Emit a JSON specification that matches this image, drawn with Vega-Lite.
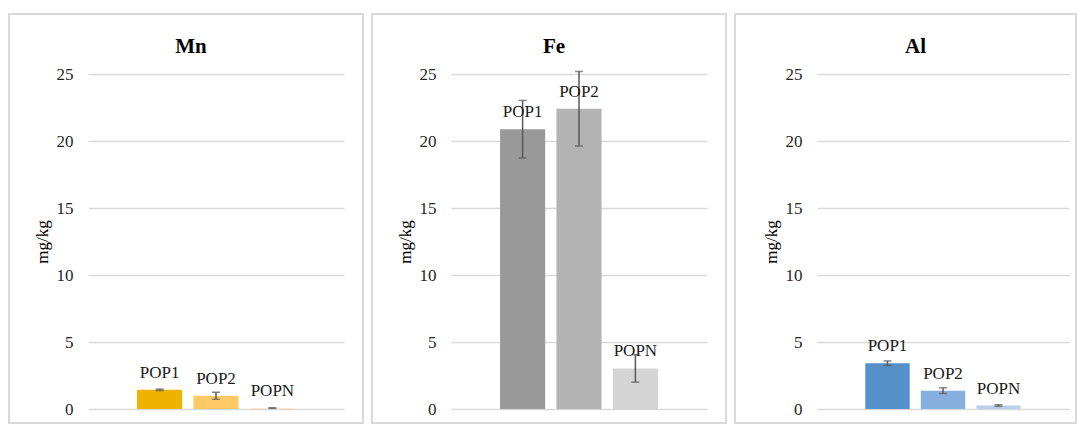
{
  "$schema": "https://vega.github.io/schema/vega-lite/v6.json",
  "padding": {"left": 8, "top": 13, "right": 0, "bottom": 0},
  "spacing": 7,
  "config": {
    "view": {"stroke": "#D9D9D9", "strokeWidth": 2},
    "font": "Liberation Serif, DejaVu Serif, Noto Serif, serif",
    "text": {"font": "Liberation Serif, DejaVu Serif, Noto Serif, serif"},
    "axis": {"labelFont": "Liberation Serif, DejaVu Serif, Noto Serif, serif", "titleFont": "Liberation Serif, DejaVu Serif, Noto Serif, serif"},
    "title": {"font": "Liberation Serif, DejaVu Serif, Noto Serif, serif"}
  },
  "datasets": {
    "d": [
      {"element": "Mn", "pop": "POP1", "mean": 1.43, "sd": 0.05},
      {"element": "Mn", "pop": "POP2", "mean": 0.99, "sd": 0.26},
      {"element": "Mn", "pop": "POPN", "mean": 0.07, "sd": 0.02},
      {"element": "Fe", "pop": "POP1", "mean": 20.88, "sd": 2.15},
      {"element": "Fe", "pop": "POP2", "mean": 22.41, "sd": 2.78},
      {"element": "Fe", "pop": "POPN", "mean": 3.03, "sd": 1.03},
      {"element": "Al", "pop": "POP1", "mean": 3.42, "sd": 0.17},
      {"element": "Al", "pop": "POP2", "mean": 1.37, "sd": 0.21},
      {"element": "Al", "pop": "POPN", "mean": 0.26, "sd": 0.06}
    ]
  },
  "resolve": {"scale": {"color": "independent", "x": "independent", "y": "independent"}},
  "hconcat": [
    {
      "width": 354, "height": 409,
      "data": {"name": "d"},
      "transform": [{"filter": "datum.element === 'Mn'"}],
      "title": {"text": "Mn", "fontSize": 21, "fontWeight": "bold", "color": "#000000", "offset": -60, "baseline": "alphabetic", "anchor": "middle", "frame": "group", "dx": 5},
      "encoding": {
        "x": {"field": "pop", "type": "nominal", "scale": {"domain": ["POP1", "POP2", "POPN"], "range": [79, 335], "paddingInner": 0.2, "paddingOuter": 0.87}, "axis": null},
        "y": {"field": "mean", "type": "quantitative", "scale": {"domain": [0, 25], "range": [395, 60], "nice": false},
          "axis": {"values": [0, 5, 10, 15, 20, 25], "title": "mg/kg", "titleFontSize": 17, "titleFontWeight": "normal", "titleColor": "#000000", "titlePadding": 5, "labelFontSize": 17, "labelColor": "#262626", "labelPadding": 15, "domain": false, "ticks": false, "offset": -79, "grid": true, "gridColor": "#D9D9D9", "gridWidth": 1.5}}
      },
      "layer": [
        {
          "mark": {"type": "bar"},
          "encoding": {
            "color": {"field": "pop", "type": "nominal", "scale": {"domain": ["POP1", "POP2", "POPN"], "range": ["#F0B200", "#FFC966", "#FDE9CC"]}, "legend": null}
          }
        },
        {
          "mark": {"type": "errorbar", "color": "#595959", "thickness": 1.5, "ticks": {"size": 8}},
          "encoding": {"yError": {"field": "sd"}}
        },
        {
          "mark": {"type": "text", "dy": -12, "baseline": "alphabetic", "fontSize": 17, "color": "#1a1a1a"},
          "encoding": {"text": {"field": "pop"}}
        }
      ]
    },
    {
      "width": 354, "height": 409,
      "data": {"name": "d"},
      "transform": [{"filter": "datum.element === 'Fe'"}],
      "title": {"text": "Fe", "fontSize": 21, "fontWeight": "bold", "color": "#000000", "offset": -60, "baseline": "alphabetic", "anchor": "middle", "frame": "group", "dx": 5},
      "encoding": {
        "x": {"field": "pop", "type": "nominal", "scale": {"domain": ["POP1", "POP2", "POPN"], "range": [79, 335], "paddingInner": 0.2, "paddingOuter": 0.87}, "axis": null},
        "y": {"field": "mean", "type": "quantitative", "scale": {"domain": [0, 25], "range": [395, 60], "nice": false},
          "axis": {"values": [0, 5, 10, 15, 20, 25], "title": "mg/kg", "titleFontSize": 17, "titleFontWeight": "normal", "titleColor": "#000000", "titlePadding": 5, "labelFontSize": 17, "labelColor": "#262626", "labelPadding": 15, "domain": false, "ticks": false, "offset": -79, "grid": true, "gridColor": "#D9D9D9", "gridWidth": 1.5}}
      },
      "layer": [
        {
          "mark": {"type": "bar"},
          "encoding": {
            "color": {"field": "pop", "type": "nominal", "scale": {"domain": ["POP1", "POP2", "POPN"], "range": ["#999999", "#B3B3B3", "#D4D4D4"]}, "legend": null}
          }
        },
        {
          "mark": {"type": "errorbar", "color": "#595959", "thickness": 1.5, "ticks": {"size": 8}},
          "encoding": {"yError": {"field": "sd"}}
        },
        {
          "mark": {"type": "text", "dy": -12, "baseline": "alphabetic", "fontSize": 17, "color": "#1a1a1a"},
          "encoding": {"text": {"field": "pop"}}
        }
      ]
    },
    {
      "width": 341, "height": 409,
      "data": {"name": "d"},
      "transform": [{"filter": "datum.element === 'Al'"}],
      "title": {"text": "Al", "fontSize": 21, "fontWeight": "bold", "color": "#000000", "offset": -60, "baseline": "alphabetic", "anchor": "start", "frame": "group", "dx": 170},
      "encoding": {
        "x": {"field": "pop", "type": "nominal", "scale": {"domain": ["POP1", "POP2", "POPN"], "range": [82, 334], "paddingInner": 0.2, "paddingOuter": 0.87}, "axis": null},
        "y": {"field": "mean", "type": "quantitative", "scale": {"domain": [0, 25], "range": [395, 60], "nice": false},
          "axis": {"values": [0, 5, 10, 15, 20, 25], "title": "mg/kg", "titleFontSize": 17, "titleFontWeight": "normal", "titleColor": "#000000", "titlePadding": 5, "labelFontSize": 17, "labelColor": "#262626", "labelPadding": 15, "domain": false, "ticks": false, "offset": -82, "grid": true, "gridColor": "#D9D9D9", "gridWidth": 1.5}}
      },
      "layer": [
        {
          "mark": {"type": "bar"},
          "encoding": {
            "color": {"field": "pop", "type": "nominal", "scale": {"domain": ["POP1", "POP2", "POPN"], "range": ["#5591C8", "#88B0DF", "#B9CFEB"]}, "legend": null}
          }
        },
        {
          "mark": {"type": "errorbar", "color": "#595959", "thickness": 1.5, "ticks": {"size": 8}},
          "encoding": {"yError": {"field": "sd"}}
        },
        {
          "mark": {"type": "text", "dy": -12, "baseline": "alphabetic", "fontSize": 17, "color": "#1a1a1a"},
          "encoding": {"text": {"field": "pop"}}
        }
      ]
    }
  ]
}
